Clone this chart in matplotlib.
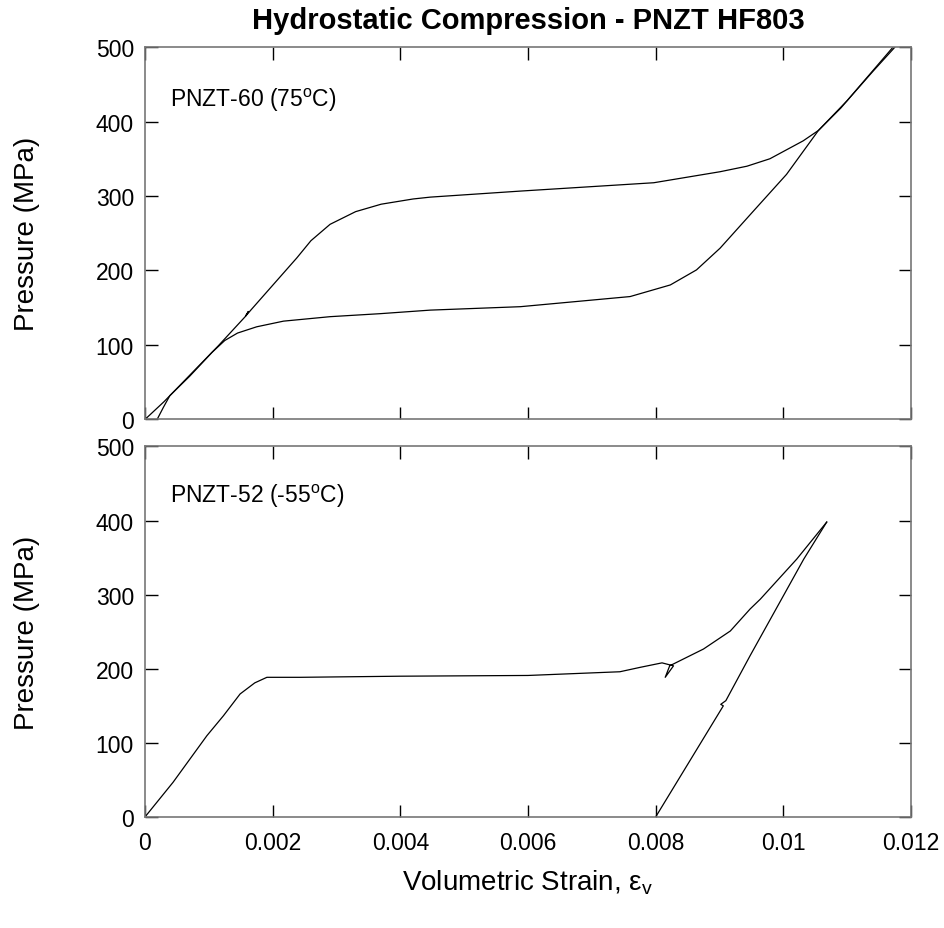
import matplotlib.pyplot as plt

plt.rcParams['font.family'] = ['Liberation Sans', 'DejaVu Sans']
plt.rcParams['mathtext.fontset'] = 'custom'
plt.rcParams['mathtext.rm'] = 'Liberation Sans'
plt.rcParams['mathtext.it'] = 'Liberation Sans:italic'

# PNZT-60 (75C) loading / unloading
load60_x = [0, 0.0003, 0.00115, 0.00157, 0.00162, 0.00158, 0.00166, 0.00238, 0.0026,
            0.0029, 0.0033, 0.0037, 0.0042, 0.00447, 0.00588, 0.00797, 0.00901,
            0.00943, 0.00979, 0.01031, 0.01055, 0.0110, 0.0114, 0.01175]
load60_p = [0, 24, 99, 138, 145, 139, 147, 217, 240,
            262, 279, 289, 296, 298.5, 306.6, 317.8, 332.6,
            340, 350, 374, 388, 428, 467, 500]
unload60_x = [0.01172, 0.0113, 0.0109, 0.01055, 0.01005, 0.00953, 0.00901, 0.00864,
              0.00823, 0.0076, 0.00588, 0.00447, 0.00368, 0.0029, 0.00217, 0.00175,
              0.00145, 0.00125, 0.00105, 0.0007, 0.00039, 0.00029, 0.00019]
unload60_p = [500, 458, 418, 388, 329, 279.6, 230, 200.8,
              180.6, 165, 151.4, 146.8, 142, 138, 132, 124.4,
              116, 106, 90, 58, 32, 16.5, 0]

# PNZT-52 (-55C)
load52_x = [0, 0.00044, 0.00097, 0.00123, 0.00149, 0.00172, 0.00191, 0.00243, 0.004,
            0.006, 0.00744, 0.00776, 0.0081, 0.00828, 0.00815, 0.00822, 0.00875,
            0.00917, 0.00948, 0.00964, 0.01021, 0.01068]
load52_p = [0, 46.8, 109.7, 136.7, 166, 181, 188.5, 188.5, 190,
            191, 196, 202, 208, 204, 188.5, 204, 226.7,
            251, 280.7, 294, 348, 398]
unload52_x = [0.01068, 0.01032, 0.00948, 0.0091, 0.00902, 0.00906, 0.008]
unload52_p = [398, 348, 217.7, 157, 152, 150, 0]

xticks = [0, 0.002, 0.004, 0.006, 0.008, 0.010, 0.012]
xtick_labels = ['0', '0.002', '0.004', '0.006', '0.008', '0.01', '0.012']
yticks = [0, 100, 200, 300, 400, 500]

fig = plt.figure(figsize=(9.45, 9.29), dpi=100)
ax1 = fig.add_axes([0.1534, 0.5474, 0.8106, 0.4009])
ax2 = fig.add_axes([0.1534, 0.1195, 0.8106, 0.3988])

ax1.plot(load60_x, load60_p, color='black', lw=0.9)
ax1.plot(unload60_x, unload60_p, color='black', lw=0.9)
ax2.plot(load52_x, load52_p, color='black', lw=0.9)
ax2.plot(unload52_x, unload52_p, color='black', lw=0.9)

for ax in (ax1, ax2):
    ax.set_xlim(0, 0.012)
    ax.set_ylim(0, 500)
    ax.set_xticks(xticks)
    ax.set_yticks(yticks)
    ax.tick_params(direction='in', length=9, width=1, top=True, right=True,
                   labelsize=16.5, colors='black')
    for s in ax.spines.values():
        s.set_color('#777777')
        s.set_linewidth(1.2)
    ax.set_ylabel('Pressure (MPa)', fontsize=20, labelpad=40)

ax1.set_xticklabels([])
ax2.set_xticklabels(xtick_labels)
ax2.tick_params(axis='x', pad=10)
ax1.tick_params(axis='y', pad=8)
ax2.tick_params(axis='y', pad=8)

ax1.text(0.033, 0.86, r'PNZT-60 (75$^{\rm o}$C)', transform=ax1.transAxes,
         fontsize=16.5, va='center')
ax2.text(0.033, 0.868, r'PNZT-52 (-55$^{\rm o}$C)', transform=ax2.transAxes,
         fontsize=16.5, va='center')

ax1.set_title('Hydrostatic Compression - PNZT HF803', fontsize=21,
              fontweight='bold', pad=14)
ax2.set_xlabel(r'Volumetric Strain, ε$_{\rm v}$', fontsize=20, labelpad=10)

fig.savefig('out.png', dpi=100)
